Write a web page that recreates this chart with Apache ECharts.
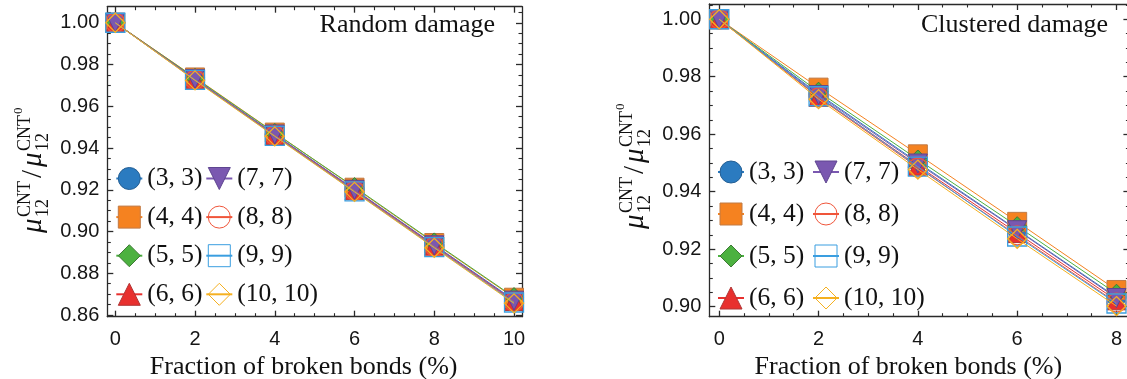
<!DOCTYPE html>
<html>
<head>
<meta charset="utf-8">
<title>mu12 damage</title>
<script src="https://cdn.jsdelivr.net/npm/echarts@6/dist/echarts.min.js"></script>
<style>
  html, body { margin: 0; padding: 0; background: #fff; }
  #main { width: 1127px; height: 379px; }
</style>
</head>
<body>
<div id="main"></div>
<script>
// legend names / styles, one entry per chirality
var names = ['(3, 3)', '(4, 4)', '(5, 5)', '(6, 6)', '(7, 7)', '(8, 8)', '(9, 9)', '(10, 10)'];
var colors = ['#2b7bc0', '#f58220', '#4cb140', '#e8302e', '#7a58b0', '#f0553a', '#3a9ee0', '#f5b020'];
var borders = ['#245f94', '#c07a45', '#3d7a35', '#b03535', '#5e4590', '#f0553a', '#3a9ee0', '#f5b020'];
var symbols = ['circle', 'rect', 'diamond', 'triangle', 'triangle', 'circle', 'rect', 'diamond'];
var rotates = [0, 0, 0, 0, 180, 0, 0, 0];
var hollow = [false, false, false, false, false, true, true, true];

// random damage panel
var xRandom = [0, 2, 4, 6, 8, 10];
var r33 = [1.000, 0.9732, 0.9466, 0.9202, 0.8936, 0.8672];
var r44 = [1.000, 0.9738, 0.9474, 0.9210, 0.8945, 0.8683];
var r55 = [1.000, 0.9736, 0.9472, 0.9213, 0.8948, 0.8686];
var r66 = [1.000, 0.9729, 0.9462, 0.9198, 0.8932, 0.8667];
var r77 = [1.000, 0.9731, 0.9465, 0.9200, 0.8934, 0.8669];
var r88 = [1.000, 0.9727, 0.9460, 0.9195, 0.8928, 0.8663];
var r99 = [1.000, 0.9726, 0.9458, 0.9192, 0.8925, 0.8660];
var r1010 = [1.000, 0.9724, 0.9456, 0.9190, 0.8922, 0.8656];

// clustered damage panel
var xClustered = [0, 2, 4, 6, 8];
var c33 = [1.000, 0.9740, 0.9502, 0.9268, 0.9033];
var c44 = [1.000, 0.9762, 0.9530, 0.9295, 0.9058];
var c55 = [1.000, 0.9748, 0.9512, 0.9280, 0.9045];
var c66 = [1.000, 0.9730, 0.9490, 0.9256, 0.9022];
var c77 = [1.000, 0.9736, 0.9498, 0.9266, 0.9030];
var c88 = [1.000, 0.9728, 0.9484, 0.9248, 0.9014];
var c99 = [1.000, 0.9732, 0.9487, 0.9244, 0.9011];
var c1010 = [1.000, 0.9722, 0.9477, 0.9236, 0.9002];

// tick labels
var xTicksRandom = [0, 2, 4, 6, 8, 10];
var yTicksRandom = [0.86, 0.88, 0.90, 0.92, 0.94, 0.96, 0.98, 1.00];
var xTicksClustered = [0, 2, 4, 6, 8];
var yTicksClustered = [0.90, 0.92, 0.94, 0.96, 0.98, 1.00];

var randomSets = [r33, r44, r55, r66, r77, r88, r99, r1010];
var clusteredSets = [c33, c44, c55, c66, c77, c88, c99, c1010];

var chart = echarts.init(document.getElementById('main'));

var AX = '#2a2a2a';
var SANS = 'Liberation Sans';
var SERIF = 'Liberation Serif';

function minorsOf(major, n, lo, hi) {
  var step = (major[1] - major[0]) / n;
  var out = [];
  for (var k = Math.ceil(lo / step - 1e-6); k * step <= hi + 1e-9; k++) {
    var v = +(k * step).toFixed(6);
    if (k % n !== 0) out.push(v);
  }
  return out;
}

function axisSet(kind, grid, major, lo, hi, fmt, labelSide) {
  var minor = minorsOf(major, 4, lo, hi);
  var sides = kind === 'x' ? ['bottom', 'top'] : ['left', 'right'];
  var list = [];
  sides.forEach(function (pos) {
    var withLabel = pos === labelSide;
    list.push({
      type: 'value', gridIndex: grid, position: pos, min: lo, max: hi,
      axisLine: { show: true, onZero: false, lineStyle: { color: AX, width: 1.3 } },
      axisTick: { show: true, inside: true, length: 6, customValues: major, lineStyle: { color: AX, width: 1.3 } },
      axisLabel: withLabel ? {
        show: true, customValues: major, formatter: fmt,
        fontFamily: SANS, fontSize: 20, color: '#151515', margin: kind === 'x' ? 13 : 8
      } : { show: false },
      splitLine: { show: false }
    });
    list.push({
      type: 'value', gridIndex: grid, position: pos, min: lo, max: hi,
      axisLine: { show: false, onZero: false },
      axisTick: { show: true, inside: true, length: 3.5, customValues: minor, lineStyle: { color: AX, width: 1.1 } },
      axisLabel: { show: false },
      splitLine: { show: false }
    });
  });
  return list;
}

var xFmt = function (v) { return String(Math.round(v)); };
var yFmt = function (v) { return v.toFixed(2); };

var xAxes = axisSet('x', 0, xTicksRandom, -0.2, 10.2, xFmt, 'bottom')
  .concat(axisSet('x', 1, xTicksClustered, -0.2, 8.26, xFmt, 'bottom'));
var yAxes = axisSet('y', 0, yTicksRandom, 0.8592, 1.0077, yFmt, 'left')
  .concat(axisSet('y', 1, yTicksClustered, 0.8965, 1.0053, yFmt, 'left'));

// axis name on the main bottom axis of each grid
[0, 4].forEach(function (i) {
  xAxes[i].name = 'Fraction of broken bonds (%)';
  xAxes[i].nameLocation = 'middle';
  xAxes[i].nameGap = 33;
  xAxes[i].nameTextStyle = { fontFamily: SERIF, fontSize: 26, color: '#111', lineHeight: 26, padding: [0, 22, 0, 0] };
});

function makeSeries(xs, ys, i, g) {
  var style = hollow[i]
    ? { color: 'rgba(255,255,255,0)', borderColor: colors[i], borderWidth: 1.3 }
    : { color: colors[i], borderColor: borders[i], borderWidth: 1 };
  return {
    name: names[i], type: 'line',
    xAxisIndex: g * 4, yAxisIndex: g * 4,
    data: xs.map(function (x, k) { return [x, ys[k]]; }),
    symbol: symbols[i], symbolSize: 19, symbolRotate: rotates[i],
    lineStyle: { color: colors[i], width: 1 },
    itemStyle: style,
    emphasis: { disabled: true },
    z: 2 + i
  };
}

var series = [];
randomSets.forEach(function (ys, i) { series.push(makeSeries(xRandom, ys, i, 0)); });
clusteredSets.forEach(function (ys, i) { series.push(makeSeries(xClustered, ys, i, 1)); });

function legendBlock(items, left, top, gap) {
  return {
    orient: 'vertical', left: left, top: top, padding: 0,
    itemWidth: 26, itemHeight: 27.5, itemGap: gap,
    selectedMode: false,
    data: items,
    itemStyle: { borderWidth: 1 },
    textStyle: { fontFamily: SERIF, fontSize: 25.5, color: '#111', lineHeight: 24 }
  };
}

// y axis label: mu_12^CNT / mu_12^CNT0, rotated
function muLabel(cx, cy) {
  var L = 126;
  function t(x, y, txt, fs, italic) {
    return {
      type: 'text', x: x - L / 2, y: y,
      style: { text: txt, fontFamily: SERIF, fontSize: fs, fontStyle: italic ? 'italic' : 'normal',
               fill: '#111', align: 'left', verticalAlign: 'middle' }
    };
  }
  return {
    type: 'group', x: cx, y: cy, rotation: Math.PI / 2,
    children: [
      t(0, -9.8, 'μ', 29, true),
      t(16, -18.1, 'CNT', 18, false),
      t(16, 0.4, '12', 18, false),
      t(55, -9.8, '/', 29, false),
      t(66, -9.8, 'μ', 29, true),
      t(82, -18.1, 'CNT', 18, false),
      t(82, 0.4, '12', 18, false),
      t(119, -24.9, '0', 13, false)
    ]
  };
}

var option = {
  animation: false,
  backgroundColor: '#fff',
  title: [
    { text: 'Random damage', right: 632, top: 12.5, padding: 0,
      textStyle: { fontFamily: SERIF, fontSize: 26, fontWeight: 'normal', color: '#111', lineHeight: 26 } },
    { text: 'Clustered damage', right: 19, top: 12.5, padding: 0,
      textStyle: { fontFamily: SERIF, fontSize: 26, fontWeight: 'normal', color: '#111', lineHeight: 26 } }
  ],
  grid: [
    { left: 107.3, top: 6.7, width: 414.7, height: 310, outerBoundsMode: 'none', containLabel: false },
    { left: 709.3, top: 4, width: 420.1, height: 312.7, outerBoundsMode: 'none', containLabel: false }
  ],
  legend: [
    legendBlock(names.slice(0, 4), 115.3, 165.5, 12.6),
    legendBlock(names.slice(4), 205.3, 165.5, 12.6),
    legendBlock(names.slice(0, 4), 717, 159, 16.0),
    legendBlock(names.slice(4), 812, 159, 16.0)
  ],
  xAxis: xAxes,
  yAxis: yAxes,
  series: series,
  graphic: [muLabel(43, 170), muLabel(645, 166)]
};

chart.setOption(option);
</script>
</body>
</html>
